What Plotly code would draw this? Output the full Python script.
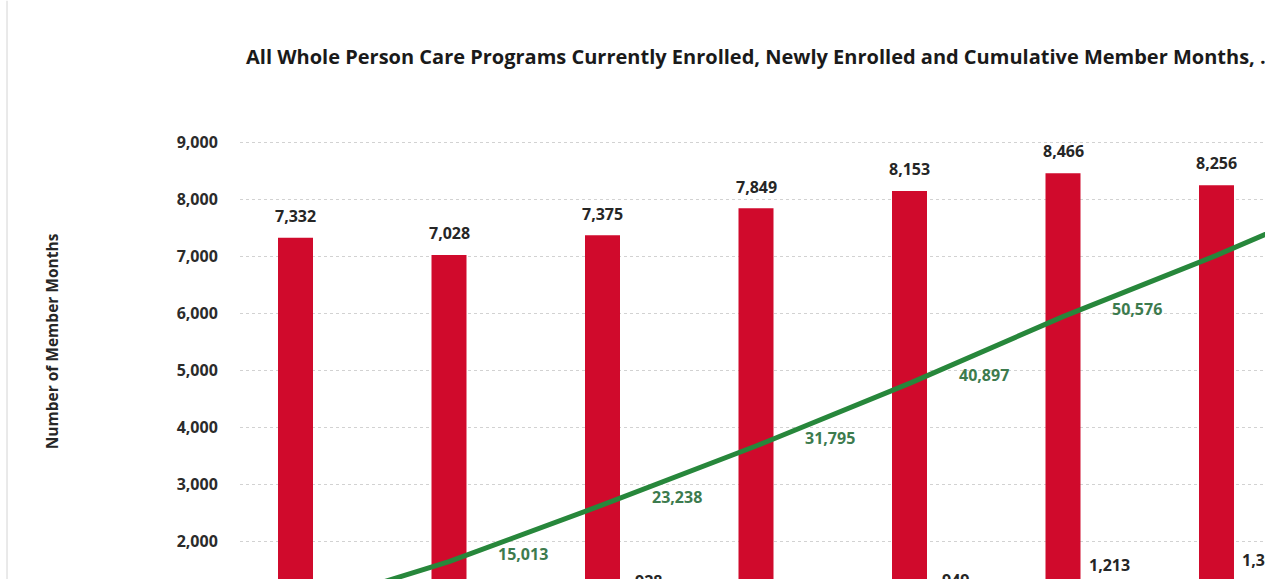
import plotly.graph_objects as go

# Monthly values (month index along the x axis)
month_index = [0, 1, 2, 3, 4, 5, 6, 7]
currently_enrolled = [7332, 7028, 7375, 7849, 8153, 8466, 8256]
newly_enrolled = [610, 560, 928, 720, 949, 1213, 1302]
cumulative_member_months = [8100, 15013, 23238, 31795, 40897, 50576, 59480, 69100]

title_text = ("All Whole Person Care Programs Currently Enrolled, Newly Enrolled "
              "and Cumulative Member Months, .")
y_title = "Number of Member Months"
y_ticks = [0, 1000, 2000, 3000, 4000, 5000, 6000, 7000, 8000, 9000]

RED = "#d00a2c"
GREEN = "#27873b"
GREEN_TEXT = "#3d7b4e"
DARK = "#262626"
FONT = "Open Sans"

fig = go.Figure()

fig.add_trace(go.Bar(
    x=month_index[:len(currently_enrolled)], y=currently_enrolled,
    width=0.228, marker=dict(color=RED, line=dict(width=0)),
    name="Currently Enrolled", hoverinfo="skip",
))
fig.add_trace(go.Bar(
    x=month_index[:len(newly_enrolled)], y=newly_enrolled,
    width=0.2, offset=0.19, marker=dict(color="#7f7f7f", line=dict(width=0)),
    name="Newly Enrolled", hoverinfo="skip",
))
fig.add_trace(go.Scatter(
    x=month_index[:len(cumulative_member_months)], y=cumulative_member_months,
    yaxis="y2", mode="lines", line=dict(color=GREEN, width=5),
    name="Cumulative Member Months", hoverinfo="skip",
))

annotations = []
# value labels above the enrolled bars
for i, v in enumerate(currently_enrolled):
    annotations.append(dict(
        x=month_index[i], y=v, xref="x", yref="y", text=f"{v:,}",
        showarrow=False, yanchor="middle", yshift=21.7,
        font=dict(family=FONT, size=16, color=DARK, weight="bold"),
    ))
for i, v in enumerate(newly_enrolled):
    annotations.append(dict(
        x=month_index[i], y=v, xref="x", yref="y", text=f"{v:,}",
        showarrow=False, yanchor="middle", yshift=21.7, xshift=46,
        font=dict(family=FONT, size=16, color=DARK, weight="bold"),
    ))
# cumulative labels to the right of each line point
for i, v in enumerate(cumulative_member_months):
    annotations.append(dict(
        x=month_index[i], y=v, xref="x", yref="y2", text=f"{v:,}",
        showarrow=False, xanchor="left", yanchor="middle", xshift=47, yshift=8,
        font=dict(family=FONT, size=16, color=GREEN_TEXT, weight="bold"),
    ))
annotations.append(dict(
    x=0.0039, y=1.0971, xref="paper", yref="paper", text=title_text,
    showarrow=False, xanchor="left", yanchor="middle",
    font=dict(family=FONT, size=20, color="#1a1a1a", weight="bold"),
))
annotations.append(dict(
    x=-0.1837, y=0.5758, xref="paper", yref="paper", text=y_title,
    showarrow=False, textangle=-90, xanchor="center", yanchor="middle",
    font=dict(family=FONT, size=15.5, color=DARK, weight="bold"),
))

fig.update_layout(
    width=1265, height=680,
    margin=dict(l=240, r=0, t=110, b=24, pad=0),
    paper_bgcolor="white", plot_bgcolor="white",
    barmode="overlay", showlegend=False,
    annotations=annotations,
    shapes=[dict(type="line", xref="paper", yref="paper",
                 x0=-0.2273, x1=-0.2273, y0=0.0, y1=1.2, layer="below",
                 line=dict(color="#e3e3e3", width=1.5))],
    xaxis=dict(range=[-0.3616, 6.316], showticklabels=False, showgrid=False,
               zeroline=False, showline=False, ticks=""),
    yaxis=dict(range=[-5, 9574], tickvals=y_ticks, tickformat=",d",
               ticks="outside", ticklen=18, tickcolor="rgba(0,0,0,0)",
               tickfont=dict(family=FONT, size=16, color="#2b2b2b", weight="bold"),
               showgrid=True, gridcolor="#d2d2d2", griddash="dot", gridwidth=1,
               zeroline=False, showline=False),
    yaxis2=dict(range=[1307, 80586], overlaying="y", side="right", visible=False),
)

fig.write_html("out.html")
